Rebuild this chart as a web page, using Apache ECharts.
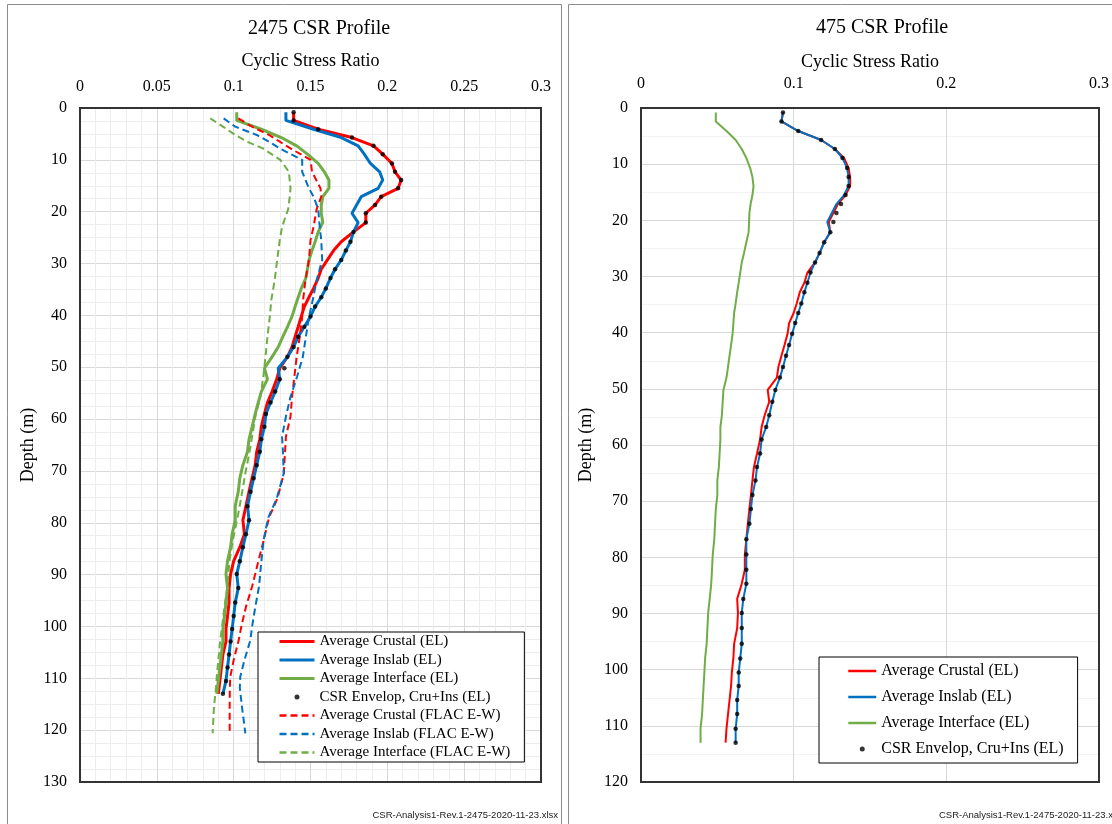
<!DOCTYPE html>
<html>
<head>
<meta charset="utf-8">
<script src="https://cdn.jsdelivr.net/npm/echarts@6/dist/echarts.min.js"></script>
<style>
html,body{margin:0;padding:0;background:#fff;}
#chart{width:1112px;height:824px;}
</style>
</head>
<body>
<div id="chart"></div>
<script>
// ---- Shared depth points (m) for the EL profiles ----
const depthEL = [0.8, 2.4, 4.1, 5.7, 7.3, 8.9, 10.7, 12.3, 13.9, 15.5, 17.1, 18.7, 20.3, 22.1, 23.9, 25.8, 27.5, 29.3, 31.1, 32.8, 34.8, 36.5, 38.3, 40.2, 42.2, 44.1, 46.1, 48.0, 50.2, 52.3, 54.7, 56.8, 59.0, 61.5, 63.9, 66.3, 68.9, 71.4, 74.0, 76.8, 79.5, 82.2, 84.7, 87.4, 89.9, 92.6, 95.4, 98.0, 100.5, 102.9, 105.4, 107.9, 110.5, 113.0];

// ---- 2475 CSR profile (EL) ----
const crustal2475 = [0.139, 0.139, 0.155, 0.177, 0.191, 0.197, 0.203, 0.205, 0.209, 0.207, 0.196, 0.192, 0.186, 0.186, 0.178, 0.170, 0.165, 0.161, 0.157, 0.155, 0.152, 0.149, 0.146, 0.144, 0.142, 0.140, 0.138, 0.135, 0.130, 0.128, 0.125, 0.122, 0.120, 0.118, 0.117, 0.115, 0.114, 0.112, 0.110, 0.108, 0.106, 0.107, 0.104, 0.100, 0.098, 0.097, 0.097, 0.096, 0.095, 0.095, 0.093, 0.092, 0.091, 0.090];
const inslab2475 = [0.134, 0.134, 0.152, 0.170, 0.181, 0.185, 0.189, 0.195, 0.197, 0.194, 0.183, 0.180, 0.177, 0.181, 0.178, 0.176, 0.173, 0.170, 0.166, 0.163, 0.160, 0.157, 0.153, 0.150, 0.146, 0.142, 0.139, 0.135, 0.129, 0.130, 0.127, 0.124, 0.121, 0.120, 0.118, 0.117, 0.115, 0.113, 0.111, 0.109, 0.110, 0.108, 0.106, 0.104, 0.102, 0.103, 0.101, 0.100, 0.099, 0.098, 0.097, 0.096, 0.095, 0.093];
const interface2475 = [0.102, 0.102, 0.118, 0.131, 0.141, 0.148, 0.155, 0.159, 0.162, 0.162, 0.158, 0.157, 0.157, 0.158, 0.155, 0.153, 0.151, 0.149, 0.148, 0.147, 0.144, 0.142, 0.140, 0.138, 0.135, 0.132, 0.129, 0.125, 0.120, 0.122, 0.118, 0.116, 0.114, 0.112, 0.110, 0.109, 0.106, 0.104, 0.103, 0.101, 0.101, 0.099, 0.098, 0.096, 0.095, 0.096, 0.095, 0.094, 0.093, 0.093, 0.092, 0.091, 0.090, 0.089];
const envelope2475 = [0.139, 0.139, 0.155, 0.177, 0.191, 0.197, 0.203, 0.205, 0.209, 0.207, 0.196, 0.192, 0.186, 0.186, 0.178, 0.176, 0.173, 0.170, 0.166, 0.163, 0.160, 0.157, 0.153, 0.150, 0.146, 0.142, 0.139, 0.135, 0.133, 0.130, 0.127, 0.124, 0.121, 0.120, 0.118, 0.117, 0.115, 0.113, 0.111, 0.109, 0.110, 0.108, 0.106, 0.104, 0.102, 0.103, 0.101, 0.100, 0.099, 0.098, 0.097, 0.096, 0.095, 0.093];

// ---- 2475 CSR profile (FLAC E-W) ----
const depthFLAC = [2.0, 3.6, 5.2, 6.5, 7.8, 10.0, 12.3, 15.5, 17.1, 19.5, 22.9, 25.5, 29.3, 33.2, 37.0, 40.3, 44.1, 48.0, 51.8, 55.7, 59.5, 63.4, 66.0, 70.5, 75.3, 79.0, 83.3, 87.5, 92.3, 96.2, 100.0, 102.6, 106.5, 109.7, 111.8, 115.5, 120.6];
const crustalFlac = [0.103, 0.112, 0.123, 0.130, 0.137, 0.150, 0.151, 0.1565, 0.157, 0.154, 0.152, 0.150, 0.149, 0.1467, 0.1452, 0.1446, 0.143, 0.141, 0.1395, 0.138, 0.137, 0.134, 0.1335, 0.1326, 0.1285, 0.123, 0.1196, 0.116, 0.112, 0.108, 0.105, 0.1033, 0.100, 0.0978, 0.0975, 0.0974, 0.0974];
const inslabFlac = [0.0935, 0.101, 0.115, 0.123, 0.130, 0.1446, 0.1446, 0.149, 0.152, 0.155, 0.156, 0.157, 0.1576, 0.154, 0.1515, 0.149, 0.147, 0.145, 0.1413, 0.137, 0.134, 0.1315, 0.132, 0.1326, 0.128, 0.1225, 0.1195, 0.118, 0.1165, 0.1141, 0.112, 0.1109, 0.107, 0.1043, 0.104, 0.1054, 0.1076];
const interfaceFlac = [0.0848, 0.093, 0.101, 0.1087, 0.119, 0.1304, 0.1359, 0.137, 0.1365, 0.1355, 0.1315, 0.130, 0.1283, 0.1267, 0.1245, 0.1235, 0.122, 0.1207, 0.1193, 0.1174, 0.1141, 0.112, 0.1105, 0.1076, 0.1048, 0.1025, 0.0995, 0.0972, 0.096, 0.094, 0.0925, 0.0913, 0.090, 0.089, 0.0885, 0.0872, 0.0863];

// ---- 475 CSR profile (EL) ----
const crustal475 = [0.093, 0.092, 0.103, 0.118, 0.127, 0.133, 0.136, 0.137, 0.137, 0.134, 0.129, 0.126, 0.123, 0.124, 0.120, 0.117, 0.114, 0.109, 0.107, 0.104, 0.102, 0.100, 0.097, 0.096, 0.094, 0.092, 0.090, 0.089, 0.083, 0.084, 0.081, 0.079, 0.078, 0.076, 0.074, 0.073, 0.072, 0.071, 0.070, 0.069, 0.068, 0.068, 0.066, 0.063, 0.0635, 0.063, 0.061, 0.0605, 0.0595, 0.059, 0.058, 0.057, 0.056, 0.0554];
const inslab475 = [0.093, 0.092, 0.103, 0.118, 0.127, 0.132, 0.135, 0.136, 0.136, 0.133, 0.128, 0.125, 0.122, 0.124, 0.120, 0.117, 0.114, 0.111, 0.109, 0.107, 0.105, 0.103, 0.101, 0.099, 0.097, 0.095, 0.093, 0.091, 0.088, 0.086, 0.084, 0.082, 0.079, 0.078, 0.076, 0.075, 0.073, 0.072, 0.071, 0.069, 0.069, 0.069, 0.069, 0.067, 0.066, 0.066, 0.066, 0.065, 0.064, 0.064, 0.063, 0.063, 0.062, 0.062];
const interface475 = [0.049, 0.049, 0.056, 0.062, 0.066, 0.069, 0.0715, 0.073, 0.0737, 0.073, 0.0718, 0.071, 0.0708, 0.0705, 0.069, 0.0675, 0.066, 0.065, 0.064, 0.063, 0.062, 0.061, 0.0605, 0.060, 0.059, 0.058, 0.057, 0.056, 0.054, 0.0535, 0.053, 0.052, 0.052, 0.0515, 0.051, 0.050, 0.050, 0.049, 0.0485, 0.048, 0.047, 0.0465, 0.046, 0.045, 0.044, 0.0435, 0.043, 0.042, 0.0415, 0.041, 0.0405, 0.040, 0.039, 0.039];
const envelope475 = [0.093, 0.092, 0.103, 0.118, 0.127, 0.132, 0.135, 0.136, 0.136, 0.134, 0.131, 0.128, 0.126, 0.124, 0.120, 0.117, 0.114, 0.111, 0.109, 0.107, 0.105, 0.103, 0.101, 0.099, 0.097, 0.095, 0.093, 0.091, 0.088, 0.086, 0.084, 0.082, 0.079, 0.078, 0.076, 0.075, 0.073, 0.072, 0.071, 0.069, 0.069, 0.069, 0.069, 0.067, 0.066, 0.066, 0.066, 0.065, 0.064, 0.064, 0.063, 0.063, 0.062, 0.062];

// ---- Text ----
const titles = ['2475 CSR Profile', '475 CSR Profile'];
const xName = 'Cyclic Stress Ratio';
const yName = 'Depth (m)';
const names = ['Average Crustal (EL)', 'Average Inslab (EL)', 'Average Interface (EL)', 'CSR Envelop, Cru+Ins (EL)',
               'Average Crustal (FLAC E-W)', 'Average Inslab (FLAC E-W)', 'Average Interface (FLAC E-W)'];
const footer = 'CSR-Analysis1-Rev.1-2475-2020-11-23.xlsx';

const RED = '#FF0000', BLUE = '#0070C0', GREEN = '#70AD47';
const SERIF = '"Liberation Serif", "Times New Roman", serif';

const pair = (xs, ys) => xs.map((v, i) => [v, ys[i]]);
const fmt = v => String(Math.round(v * 100) / 100);

function xAxisCfg(grid, interval, minorSplit, nameGap, margin) {
  return {
    gridIndex: grid, type: 'value', position: 'top', min: 0, max: 0.3, interval: interval,
    name: xName, nameLocation: 'middle', nameGap: nameGap,
    nameTextStyle: { fontFamily: SERIF, fontSize: 18, color: '#000' },
    axisLine: { show: false }, axisTick: { show: false },
    axisLabel: { fontFamily: SERIF, fontSize: 16, color: '#000', margin: margin, formatter: fmt },
    splitLine: { show: true, lineStyle: { color: '#d9d9d9', width: 1 } },
    minorTick: { show: false, splitNumber: minorSplit || 5 },
    minorSplitLine: { show: !!minorSplit, lineStyle: { color: '#ededed', width: 1 } }
  };
}
function yAxisCfg(grid, max, minorSplit, minorColor, nameGap) {
  return {
    gridIndex: grid, type: 'value', inverse: true, min: 0, max: max, interval: 10,
    name: yName, nameLocation: 'middle', nameGap: nameGap, nameRotate: 90,
    nameTextStyle: { fontFamily: SERIF, fontSize: 18, color: '#000' },
    axisLine: { show: false }, axisTick: { show: false },
    axisLabel: { fontFamily: SERIF, fontSize: 16, color: '#000', margin: 13 },
    splitLine: { show: true, lineStyle: { color: '#d9d9d9', width: 1 } },
    minorTick: { show: false, splitNumber: minorSplit },
    minorSplitLine: { show: true, lineStyle: { color: minorColor, width: 1 } }
  };
}
function lineSeries(name, xs, ys, ax, color, width, dashed) {
  return {
    name: name, type: 'line', xAxisIndex: ax, yAxisIndex: ax,
    data: pair(xs, ys), symbol: 'none', smooth: false,
    lineStyle: { color: color, width: width, type: dashed ? [7, 4] : 'solid' },
    itemStyle: { color: color }, z: 2
  };
}
function dotSeries(name, xs, ys, ax) {
  return {
    name: name, type: 'scatter', xAxisIndex: ax, yAxisIndex: ax,
    data: pair(xs, ys), symbol: 'circle', symbolSize: 4.5,
    itemStyle: { color: '#000' }, z: 4
  };
}

const hideDot = { opacity: 0 };
const solidIcon = { width: 3 };
const dashIcon = { width: 2.5 };
const chart = echarts.init(document.getElementById('chart'), null, { renderer: 'canvas' });
chart.setOption({
  backgroundColor: '#fff',
  animation: false,
  title: [
    { text: titles[0], left: 314, top: 14, textAlign: 'center',
      textStyle: { fontFamily: SERIF, fontSize: 20, fontWeight: 'normal', color: '#000' } },
    { text: titles[1], left: 877, top: 13, textAlign: 'center',
      textStyle: { fontFamily: SERIF, fontSize: 20, fontWeight: 'normal', color: '#000' } }
  ],
  grid: [
    { left: 80, top: 108, width: 461, height: 674, show: true, z: 3, borderColor: '#333', borderWidth: 2, backgroundColor: 'transparent' },
    { left: 641, top: 108, width: 460, height: 674, show: true, z: 3, borderColor: '#333', borderWidth: 2, backgroundColor: 'transparent' }
  ],
  xAxis: [
    xAxisCfg(0, 0.05, 5, 38, 13),
    xAxisCfg(1, 0.1, 0, 37, 16)
  ],
  yAxis: [
    yAxisCfg(0, 130, 4, '#ededed', 43),
    yAxisCfg(1, 120, 2, '#f3f3f3', 46)
  ],
  legend: [
    {
      data: [
        { name: names[0], itemStyle: hideDot, lineStyle: solidIcon },
        { name: names[1], itemStyle: hideDot, lineStyle: solidIcon },
        { name: names[2], itemStyle: hideDot, lineStyle: solidIcon },
        { name: names[3] },
        { name: names[4], itemStyle: hideDot, lineStyle: dashIcon },
        { name: names[5], itemStyle: hideDot, lineStyle: dashIcon },
        { name: names[6], itemStyle: hideDot, lineStyle: dashIcon }
      ],
      orient: 'vertical', left: 258, top: 632, padding: [2, 14, 2, 20], itemGap: 3.5,
      itemWidth: 35, itemHeight: 5, borderColor: '#000', borderWidth: 1, backgroundColor: '#fff',
      selectedMode: false, z: 6,
      textStyle: { fontFamily: SERIF, fontSize: 15, color: '#000', lineHeight: 15 }
    },
    {
      data: [
        { name: names[0], itemStyle: hideDot, lineStyle: dashIcon },
        { name: names[1], itemStyle: hideDot, lineStyle: dashIcon },
        { name: names[2], itemStyle: hideDot, lineStyle: dashIcon },
        { name: names[3] }
      ],
      orient: 'vertical', left: 819, top: 657, padding: [6, 14, 6, 28], itemGap: 10,
      itemWidth: 28, itemHeight: 5, borderColor: '#000', borderWidth: 1, backgroundColor: '#fff',
      selectedMode: false, z: 6,
      textStyle: { fontFamily: SERIF, fontSize: 16, color: '#000', lineHeight: 16 }
    }
  ],
  series: [
    lineSeries(names[0], crustal2475, depthEL, 0, RED, 3, false),
    lineSeries(names[1], inslab2475, depthEL, 0, BLUE, 3, false),
    lineSeries(names[2], interface2475, depthEL, 0, GREEN, 3, false),
    dotSeries(names[3], envelope2475, depthEL, 0),
    lineSeries(names[4], crustalFlac, depthFLAC, 0, RED, 2, true),
    lineSeries(names[5], inslabFlac, depthFLAC, 0, BLUE, 2, true),
    lineSeries(names[6], interfaceFlac, depthFLAC, 0, GREEN, 2, true),
    lineSeries(names[0], crustal475, depthEL, 1, RED, 2, false),
    lineSeries(names[1], inslab475, depthEL, 1, BLUE, 2, false),
    lineSeries(names[2], interface475, depthEL, 1, GREEN, 2, false),
    dotSeries(names[3], envelope475, depthEL, 1)
  ],
  graphic: [
    { type: 'rect', silent: true, z: -10, shape: { x: 7.5, y: 4.5, width: 554, height: 840 },
      style: { fill: 'none', stroke: '#8c8c8c', lineWidth: 1 } },
    { type: 'rect', silent: true, z: -10, shape: { x: 568.5, y: 4.5, width: 560, height: 840 },
      style: { fill: 'none', stroke: '#8c8c8c', lineWidth: 1 } },
    { type: 'text', silent: true, style: { text: footer, x: 558, y: 815, align: 'right', verticalAlign: 'middle',
      font: '9.5px "Liberation Sans Narrow", "Liberation Sans", sans-serif', fill: '#222' } },
    { type: 'text', silent: true, style: { text: footer, x: 939, y: 815, align: 'left', verticalAlign: 'middle',
      font: '9.5px "Liberation Sans Narrow", "Liberation Sans", sans-serif', fill: '#222' } }
  ]
});
</script>
</body>
</html>
